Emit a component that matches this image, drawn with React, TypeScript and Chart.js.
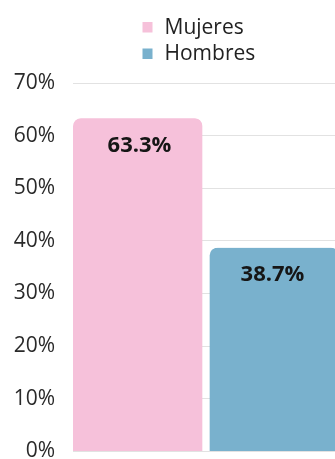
import React, { useEffect, useRef } from "react";
import { Chart, registerables } from "chart.js";

Chart.register(...registerables);

const categories = ["Total"];
const seriesLabels = ["Mujeres", "Hombres"];
const mujeresValues = [63.3];
const hombresValues = [38.7];
const yTicks = [0, 10, 20, 30, 40, 50, 60, 70];
const colors = ["#F6C1DA", "#79B1CD"];

const FONT = "'Open Sans', 'Noto Sans', sans-serif";

const labelPlugin = {
  id: "barValueLabels",
  afterDatasetsDraw(chart: any) {
    const ctx = chart.ctx;
    ctx.save();
    ctx.font = `bold 22px ${FONT}`;
    ctx.fillStyle = "#161616";
    ctx.textAlign = "center";
    ctx.textBaseline = "middle";
    chart.data.datasets.forEach((ds: any, i: number) => {
      const meta = chart.getDatasetMeta(i);
      meta.data.forEach((el: any, j: number) => {
        const v = ds.data[j];
        ctx.fillText(v.toFixed(1) + "%", el.x, el.y + 27);
      });
    });
    ctx.restore();
  },
};

const legendPlugin = {
  id: "stackedLegend",
  afterDraw(chart: any) {
    const ctx = chart.ctx;
    ctx.save();
    ctx.font = `21px ${FONT}`;
    ctx.textAlign = "left";
    ctx.textBaseline = "alphabetic";
    chart.data.datasets.forEach((ds: any, i: number) => {
      const rowBase = 33.5 + i * 26.5;
      ctx.fillStyle = ds.backgroundColor;
      ctx.fillRect(142.5, rowBase - 11.5, 10, 10.5);
      ctx.fillStyle = "#222222";
      ctx.fillText(ds.label, 164.5, rowBase);
    });
    ctx.restore();
  },
};

export default function App() {
  const ref = useRef<HTMLCanvasElement | null>(null);

  useEffect(() => {
    if (!ref.current) return;
    const chart = new Chart(ref.current, {
      type: "bar",
      data: {
        labels: categories,
        datasets: [
          {
            label: seriesLabels[0],
            data: mujeresValues,
            backgroundColor: colors[0],
            borderColor: "rgba(0,0,0,0)",
            borderWidth: { left: 0, right: 4, top: 0, bottom: 0 },
            borderSkipped: false,
            borderRadius: { topLeft: 8, topRight: 12, bottomLeft: 0, bottomRight: 0 },
          },
          {
            label: seriesLabels[1],
            data: hombresValues,
            backgroundColor: colors[1],
            borderColor: "rgba(0,0,0,0)",
            borderWidth: { left: 4, right: 0, top: 0, bottom: 0 },
            borderSkipped: false,
            borderRadius: { topLeft: 12, topRight: 8, bottomLeft: 0, bottomRight: 0 },
          },
        ],
      },
      options: {
        responsive: false,
        animation: false,
        devicePixelRatio: 1,
        layout: { padding: { top: 83, bottom: 6, left: 0, right: 1 } },
        plugins: {
          legend: { display: false },
          tooltip: { enabled: false },
        },
        datasets: {
          bar: { categoryPercentage: 1, barPercentage: 1 },
        },
        scales: {
          x: { display: false },
          y: {
            min: yTicks[0],
            max: yTicks[yTicks.length - 1],
            afterBuildTicks: (scale: any) => {
              scale.ticks = yTicks.map((v) => ({ value: v }));
            },
            afterFit: (scale: any) => {
              scale.width = 73;
            },
            border: { display: false },
            grid: { color: "#e2e2e2", lineWidth: 1, drawTicks: false },
            ticks: {
              padding: 18,
              color: "#2a2a2a",
              font: { family: FONT, size: 21 },
              callback: (v: any) => v + "%",
            },
          },
        },
      },
      plugins: [labelPlugin, legendPlugin],
    });
    return () => chart.destroy();
  }, []);

  return (
    <div
      style={{
        position: "absolute",
        left: 0,
        top: 0,
        width: 335,
        height: 459,
        overflow: "hidden",
        background: "#ffffff",
      }}
    >
      <canvas ref={ref} width={340} height={482} style={{ display: "block" }} />
    </div>
  );
}
